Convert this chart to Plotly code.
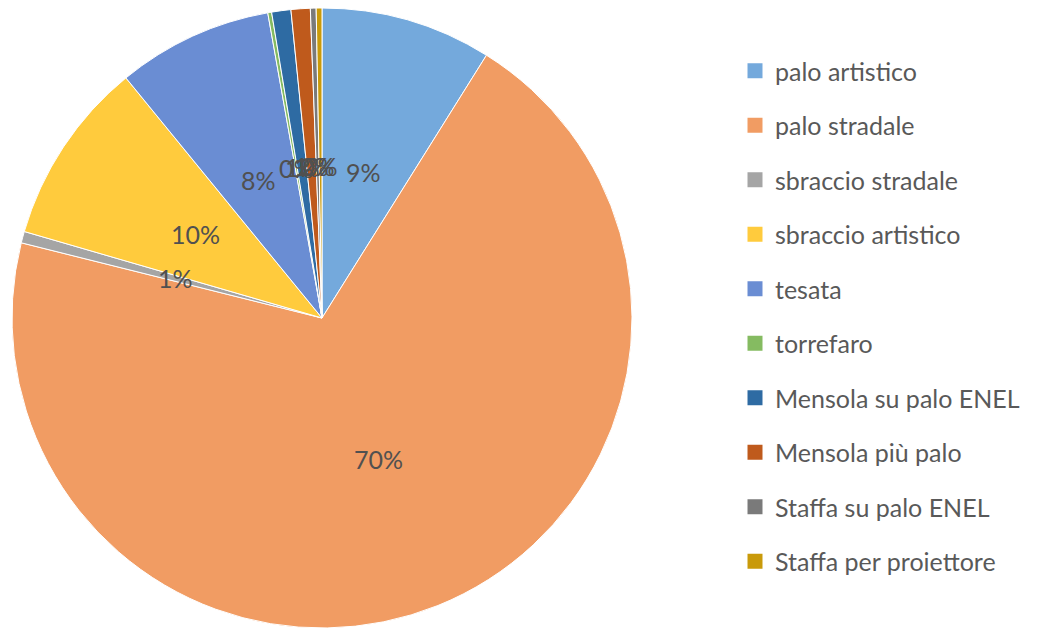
import math
import plotly.graph_objects as go

labels = ["palo artistico", "palo stradale", "sbraccio stradale", "sbraccio artistico",
          "tesata", "torrefaro", "Mensola su palo ENEL", "Mensola più palo",
          "Staffa su palo ENEL", "Staffa per proiettore"]
values = [8.9, 70.0, 0.6, 9.6, 8.1, 0.2, 1.0, 1.0, 0.3, 0.3]
colors = ["#74A9DC", "#F19C63", "#A5A5A5", "#FFCB3D", "#6A8DD3",
          "#85BB61", "#2E6BA3", "#BF5A1C", "#7A7A7A", "#C99A0A"]

W, H = 1038, 629
cx, cy, R = 314, 310, 310  # pie centre / radius in layout px

fig = go.Figure()
fig.add_trace(go.Pie(
    labels=labels, values=values, sort=False, direction="clockwise", rotation=0,
    marker=dict(colors=colors, line=dict(color="white", width=1)),
    textinfo="none", hoverinfo="label+percent", showlegend=False,
    domain=dict(x=[(cx - R) / W, (cx + R) / W], y=[1 - (cy + R) / H, 1 - (cy - R) / H]),
))

# legend entries
for lab, col in zip(labels, colors):
    fig.add_trace(go.Scatter(
        x=[None], y=[None], mode="markers", name=lab, legendgroup=lab,
        marker=dict(symbol="square", size=15, color=col),
        showlegend=True,
    ))

# percentage labels at mid-angle, about half radius
total = sum(values)
cum = 0.0
annotations = []
for v in values:
    mid = (cum + v / 2) / total * 2 * math.pi
    cum += v
    r = 0.49 * R
    x = cx + r * math.sin(mid)
    y = cy - r * math.cos(mid)
    annotations.append(dict(
        x=x / W, y=1 - y / H, xref="paper", yref="paper", showarrow=False,
        xanchor="center", yanchor="middle",
        text="{:.0%}".format(v / total),
        font=dict(size=25, color="#505050", family="Lato"),
    ))

fig.update_layout(
    width=W, height=H,
    margin=dict(l=0, r=0, t=0, b=0),
    paper_bgcolor="white", plot_bgcolor="white",
    xaxis=dict(visible=False), yaxis=dict(visible=False),
    annotations=annotations,
    legend=dict(x=727 / W, xanchor="left", y=1 - 40 / H, yanchor="top",
                font=dict(size=25, color="#595959", family="Lato"),
                tracegroupgap=19, bgcolor="rgba(0,0,0,0)"),
)

fig.write_html("out.html")
